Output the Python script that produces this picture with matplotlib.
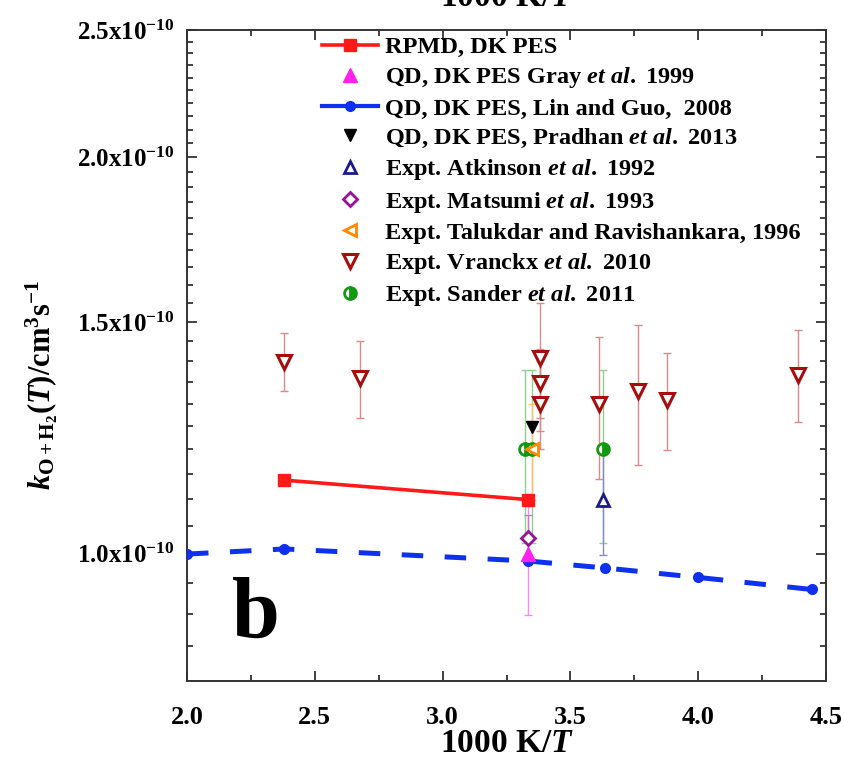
import numpy as np
import matplotlib
matplotlib.use("Agg")
import matplotlib.pyplot as plt
from matplotlib.lines import Line2D
from matplotlib.ticker import FixedLocator, FuncFormatter

plt.rcParams['font.family'] = ['Liberation Serif', 'DejaVu Serif']
plt.rcParams['font.weight'] = 'bold'
plt.rcParams['mathtext.fontset'] = 'custom'
plt.rcParams['mathtext.rm'] = 'Liberation Serif:bold'
plt.rcParams['mathtext.it'] = 'Liberation Serif:italic:bold'
plt.rcParams['mathtext.bf'] = 'Liberation Serif:bold'

# ---------------- data (x = 1000 K / T, y = rate constant cm^3 s^-1) ----------------
rpmd_x = [2.381, 3.333]
rpmd_y = [1.137e-10, 1.099e-10]

gray_x = [3.333]
gray_y = [1.000e-10]
gray_lo = [0.898e-10]
gray_hi = [1.100e-10]

lin_x = [2.000, 2.381, 3.333, 3.636, 4.000, 4.444, 5.000]
lin_y = [0.999e-10, 1.008e-10, 0.987e-10, 0.975e-10, 0.959e-10, 0.939e-10, 0.915e-10]

pradhan_x = [3.349]
pradhan_y = [1.248e-10]

atk_x = [3.626]
atk_y = [1.099e-10]
atk_lo = [0.998e-10]
atk_hi = [1.200e-10]

mats_x = [3.333]
mats_y = [1.028e-10]
mats_lo = [0.990e-10]
mats_hi = [1.069e-10]

tal_x = [3.349]
tal_y = [1.200e-10]
tal_lo = [1.099e-10]
tal_hi = [1.300e-10]

vr_x = [2.381, 2.678, 3.381, 3.381, 3.381, 3.613, 3.763, 3.879, 4.391]
vr_y = [1.397e-10, 1.359e-10, 1.408e-10, 1.347e-10, 1.299e-10, 1.299e-10, 1.328e-10, 1.308e-10, 1.367e-10]
vr_lo = [1.329e-10, 1.268e-10, 1.268e-10, 1.239e-10, 1.200e-10, 1.139e-10, 1.168e-10, 1.199e-10, 1.259e-10]
vr_hi = [1.470e-10, 1.450e-10, 1.549e-10, 1.430e-10, 1.400e-10, 1.460e-10, 1.491e-10, 1.421e-10, 1.480e-10]

san_x = [3.322, 3.349, 3.626]
san_y = [1.200e-10, 1.200e-10, 1.200e-10]
san_lo = [1.018e-10, 1.018e-10, 1.018e-10]
san_hi = [1.379e-10, 1.379e-10, 1.379e-10]

xticks = [2.0, 2.5, 3.0, 3.5, 4.0, 4.5]
yticks = [1.0e-10, 1.5e-10, 2.0e-10, 2.5e-10]

labels = ["RPMD, DK PES",
          r"QD, DK PES Gray $\mathit{et\ al.\ }$1999",
          "QD, DK PES, Lin and Guo,  2008",
          r"QD, DK PES, Pradhan $\mathit{et\ al.\ }$2013",
          r"Expt. Atkinson $\mathit{et\ al.\ }$1992",
          r"Expt. Matsumi $\mathit{et\ al.\ }$1993",
          "Expt. Talukdar and Ravishankara, 1996",
          r"Expt. Vranckx $\mathit{et\ al.\ }$2010",
          r"Expt. Sander $\mathit{et\ al.\ }$2011"]

# ---------------- colours ----------------
RED = '#ff1a1a'
MAG = '#ff22ee'
BLUE = '#1030f0'
NAVY = '#1a1a8c'
PURP = '#99119a'
ORNG = '#ff8800'
DRED = '#a50e0e'
GRN = '#119a11'

fig = plt.figure(figsize=(8.44, 7.59), dpi=100)
ax = fig.add_axes([187/844, 1-681/759, (826-187)/844, (681-30)/759])
ax.set_yscale('log')


def ebar(x, y, lo, hi, col):
    y = np.array(y); lo = np.array(lo); hi = np.array(hi)
    ax.errorbar(x, y, yerr=[y-lo, hi-y], fmt='none', ecolor=col, elinewidth=1.0,
                capsize=3, capthick=1.0, zorder=2)


ebar(vr_x, vr_y, vr_lo, vr_hi, '#d98a8a')
ebar(san_x, san_y, san_lo, san_hi, '#8fd08f')
ebar(tal_x, tal_y, tal_lo, tal_hi, '#ffc070')
ebar(gray_x, gray_y, gray_lo, gray_hi, '#ff88f0')
ebar(atk_x, atk_y, atk_lo, atk_hi, '#8888c8')
ebar(mats_x, mats_y, mats_lo, mats_hi, '#c080c8')

ax.plot(lin_x, lin_y, color=BLUE, lw=3.6, dashes=(4.3, 4.3), marker='o', ms=7,
        zorder=3, clip_on=True)
ax.plot(rpmd_x, rpmd_y, color=RED, lw=2.6, marker='s', ms=8.5, zorder=6)
ax.plot(gray_x, gray_y, ls='none', marker='^', color=MAG, ms=10, zorder=5)
ax.plot(pradhan_x, pradhan_y, ls='none', marker='v', color='black', ms=9, zorder=5)
ax.plot(atk_x, atk_y, ls='none', marker='^', mfc='white', mec=NAVY, mew=2.0, ms=9, zorder=5)
ax.plot(mats_x, mats_y, ls='none', marker='D', mfc='white', mec=PURP, mew=2.0, ms=7.5, zorder=5)
ax.plot(san_x, san_y, ls='none', marker='o', fillstyle='right', mfc=GRN, mfcalt='white',
        mec=GRN, mew=2.0, ms=8.5, zorder=4)
ax.plot(tal_x, tal_y, ls='none', marker='<', mfc='white', mec=ORNG, mew=2.0, ms=9, zorder=5)
ax.plot(vr_x, vr_y, ls='none', marker='v', mfc='white', mec=DRED, mew=2.2, ms=10, zorder=5)

ax.set_xlim(2.0, 4.5)
ax.set_ylim(0.8e-10, 2.5e-10)

ax.xaxis.set_major_locator(FixedLocator(xticks))
ax.xaxis.set_minor_locator(FixedLocator(np.arange(2.25, 4.5, 0.5)))
ax.yaxis.set_major_locator(FixedLocator(yticks))
ax.yaxis.set_minor_locator(FixedLocator(np.arange(0.85, 2.5, 0.05) * 1e-10))
ax.xaxis.set_major_formatter(FuncFormatter(lambda v, p: f"{v:.1f}"))
ax.yaxis.set_major_formatter(FuncFormatter(lambda v, p: f"{v*1e10:.1f}x10$^{{-10}}$"))
ax.yaxis.set_minor_formatter(FuncFormatter(lambda v, p: ""))

ax.tick_params(which='both', direction='in', top=True, right=True, width=1.3,
               colors='#333333', labelcolor='black')
ax.tick_params(which='major', length=7)
ax.tick_params(axis='y', which='major', labelsize=18, pad=9)
ax.tick_params(axis='x', which='major', labelsize=19, pad=18)
ax.tick_params(which='minor', length=4)
for lab in ax.get_xticklabels() + ax.get_yticklabels():
    lab.set_fontweight('bold')
for s in ax.spines.values():
    s.set_linewidth(1.4)
    s.set_color('#333333')

ax.set_xlabel(r"1000 K/$\mathit{T}$", fontsize=24, fontweight='bold', labelpad=-1)
fig.text(42/844, 1-385/759, r"$k_{\mathrm{O+H_2}}(\mathit{T})$/cm$^{3}$s$^{-1}$",
         rotation=90, ha='center', va='center', fontsize=22)
# Cut-off axis title of the panel above
fig.text(507/844, 1-6/759, r"1000 K/$\mathit{T}$", ha='center', va='baseline',
         fontsize=24, fontweight='bold')

ax.text(232/844, 1-637/759, "b", transform=fig.transFigure, fontsize=62,
        fontweight='bold', ha='left', va='baseline')

handles = [
    Line2D([], [], color=RED, lw=2.6, marker='s', ms=8.5),
    Line2D([], [], ls='none', marker='^', color=MAG, ms=10),
    Line2D([], [], color=BLUE, lw=3.0, marker='o', ms=7),
    Line2D([], [], ls='none', marker='v', color='black', ms=9),
    Line2D([], [], ls='none', marker='^', mfc='white', mec=NAVY, mew=2.0, ms=9),
    Line2D([], [], ls='none', marker='D', mfc='white', mec=PURP, mew=2.0, ms=7.5),
    Line2D([], [], ls='none', marker='<', mfc='white', mec=ORNG, mew=2.0, ms=9),
    Line2D([], [], ls='none', marker='v', mfc='white', mec=DRED, mew=2.2, ms=10),
    Line2D([], [], ls='none', marker='o', fillstyle='right', mfc=GRN, mfcalt='white',
           mec=GRN, mew=2.0, ms=8.5),
]
leg = ax.legend(handles, labels, loc='upper left', bbox_to_anchor=(322/844, 1-36/759),
                bbox_transform=fig.transFigure, frameon=False, fontsize=17.5,
                handlelength=2.3, handletextpad=0.3, labelspacing=0.3,
                borderaxespad=0, borderpad=0)
for t in leg.get_texts():
    t.set_fontweight('bold')

fig.savefig("out.png", dpi=100)
